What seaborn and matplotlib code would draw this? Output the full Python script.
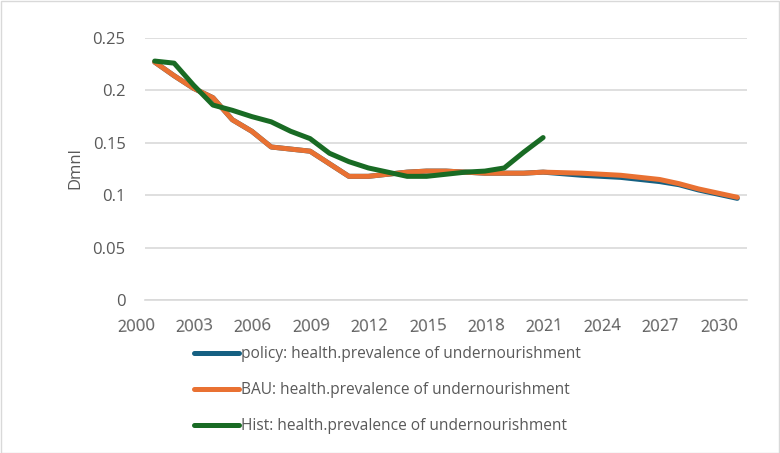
import matplotlib
matplotlib.use("Agg")
import matplotlib.pyplot as plt
import matplotlib.patches as patches
import pandas as pd
import seaborn as sns

years = list(range(2000, 2031))

bau = [0.227, 0.214, 0.202, 0.193, 0.172, 0.161, 0.146, 0.144, 0.142, 0.130,
       0.118, 0.118, 0.120, 0.122, 0.123, 0.123, 0.122, 0.121, 0.121, 0.121,
       0.122, 0.1215, 0.121, 0.120, 0.119, 0.117, 0.115, 0.111, 0.106, 0.102,
       0.098]
policy = [0.227, 0.214, 0.202, 0.193, 0.172, 0.161, 0.146, 0.144, 0.142, 0.130,
          0.118, 0.118, 0.120, 0.122, 0.123, 0.123, 0.122, 0.121, 0.121, 0.121,
          0.122, 0.1205, 0.119, 0.118, 0.117, 0.115, 0.113, 0.110, 0.105, 0.101,
          0.097]
hist_years = list(range(2000, 2021))
hist = [0.228, 0.226, 0.205, 0.186, 0.181, 0.175, 0.170, 0.161, 0.154, 0.140,
        0.132, 0.126, 0.122, 0.118, 0.118, 0.120, 0.122, 0.123, 0.126, 0.141,
        0.155]

names = ["policy: health.prevalence of undernourishment",
         "BAU: health.prevalence of undernourishment",
         "Hist: health.prevalence of undernourishment"]
colors = ["#156082", "#E97132", "#196B24"]

x_ticks = list(range(2000, 2031, 3))
x_labels = [str(y) for y in x_ticks]
y_ticks = [0, 0.05, 0.1, 0.15, 0.2, 0.25]
y_labels = ["0", "0.05", "0.1", "0.15", "0.2", "0.25"]

sns.set_style("white")
plt.rcParams['font.family'] = ['Open Sans', 'DejaVu Sans']
grey = "#595959"

fig = plt.figure(figsize=(7.8, 4.53), dpi=100)
ax = fig.add_axes([145/780, 1-300/453, 602/780, 262/453])

df_pol = pd.DataFrame({"year": years, "val": policy})
df_bau = pd.DataFrame({"year": years, "val": bau})
df_hist = pd.DataFrame({"year": hist_years, "val": hist})

for d, name, c in zip([df_pol, df_bau, df_hist], names, colors):
    sns.lineplot(data=d, x="year", y="val", ax=ax, color=c, linewidth=3.6,
                 label=name, solid_capstyle="round", solid_joinstyle="round")

ax.set_xlim(1999.5, 2030.5)
ax.set_ylim(0, 0.25)
ax.set_yticks(y_ticks)
ax.set_yticklabels(y_labels)
ax.set_xticks(x_ticks)
ax.set_xticklabels(x_labels, rotation=3, ha="right", va="top", rotation_mode="anchor")
ax.tick_params(axis="both", length=0, labelsize=12, labelcolor=grey)
ax.tick_params(axis="y", pad=14)
ax.tick_params(axis="x", pad=13)
ax.grid(axis="y", color="#D9D9D9", linewidth=1.2)
ax.set_axisbelow(True)
for s in ["top", "right", "left"]:
    ax.spines[s].set_visible(False)
ax.spines["bottom"].set_color("#D9D9D9")
ax.spines["bottom"].set_linewidth(1.2)
ax.set_xlabel("")
ax.set_ylabel("")
fig.text(75/780, 1-168/453, "Dmnl", rotation=90, ha="center", va="center",
         fontsize=12, color=grey)

ax.get_legend().remove()
handles, labels = ax.get_legend_handles_labels()
leg = fig.legend(handles, labels, loc="upper left", bbox_to_anchor=(194/780, 1-346/453),
                 frameon=False, fontsize=11.2, labelcolor=grey, handlelength=2.9,
                 handletextpad=0.1, labelspacing=1.3, borderpad=0, borderaxespad=0)

fig.patches.append(patches.Rectangle((0.001, 0.001), 0.998, 0.997, transform=fig.transFigure,
                                     fill=False, edgecolor="#D9D9D9", linewidth=1))

fig.savefig("out.png", dpi=100)
